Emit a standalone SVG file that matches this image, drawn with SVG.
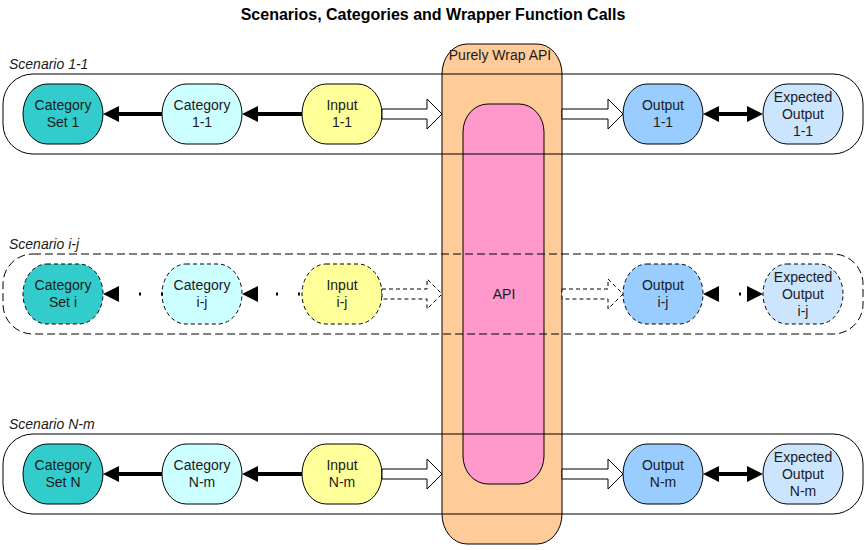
<svg xmlns="http://www.w3.org/2000/svg" width="867" height="550" viewBox="0 0 867 550">
<style>
text{font-family:"Liberation Sans",Arial,sans-serif;font-size:14px;fill:#1a1a1a;text-anchor:middle}
.title{font-weight:bold;font-size:16px;fill:#000}
.scn{font-style:italic;text-anchor:start}
.box{stroke:#000;stroke-width:1}
.scenario{fill:none;stroke:#000;stroke-width:1}
.dash{stroke-dasharray:8 4}
.ndash{stroke-dasharray:4 3}
.node{stroke:#000;stroke-width:1}
.cset{fill:#33CCCC}.cat{fill:#CCFFFF}.inp{fill:#FFFF99}.out{fill:#99CCFF}.exp{fill:#CCE5FF}
.shaft{stroke:#000;stroke-width:4;fill:none}
.dots{stroke:#000;stroke-width:3;fill:none;stroke-dasharray:2 20}
.head{fill:#000}
.hollow{fill:#fff;stroke:#000;stroke-width:1}
</style>
<rect width="867" height="550" fill="#fff"/>
<text class="title" x="433" y="20">Scenarios, Categories and Wrapper Function Calls</text>

<g id="purely-wrap-api">
<rect class="box" x="442" y="44" width="120" height="500" rx="25" ry="30" fill="#FFCC99"/>
<text x="500" y="60">Purely Wrap API</text>
</g>
<g id="api">
<rect class="box" x="463" y="104" width="81" height="380" rx="25" ry="28" fill="#FF99CC"/>
<text x="504" y="299">API</text>
</g>

<g id="scenario-1-1">
<rect class="scenario" x="3" y="74" width="860" height="80" rx="30" ry="30"/>
<text class="scn" x="9" y="69">Scenario 1-1</text>
</g>
<g id="scenario-i-j">
<rect class="scenario dash" x="3" y="254" width="860" height="80" rx="30" ry="30"/>
<text class="scn" x="9" y="249">Scenario i-j</text>
</g>
<g id="scenario-N-m">
<rect class="scenario" x="3" y="434" width="860" height="80" rx="30" ry="30"/>
<text class="scn" x="9" y="429">Scenario N-m</text>
</g>

<!-- Row 1 -->
<g id="category-set-1"><rect class="node cset" x="23" y="84" width="80" height="60" rx="24" ry="30"/><text x="63" y="110">Category</text><text x="63" y="127">Set 1</text></g>
<g id="category-1-1"><rect class="node cat" x="162" y="84" width="80" height="60" rx="24" ry="30"/><text x="202" y="110">Category</text><text x="202" y="127">1-1</text></g>
<g id="input-1-1"><rect class="node inp" x="302" y="84" width="80" height="60" rx="24" ry="30"/><text x="342" y="110">Input</text><text x="342" y="127">1-1</text></g>
<g id="output-1-1"><rect class="node out" x="623" y="84" width="80" height="60" rx="24" ry="30"/><text x="663" y="110">Output</text><text x="663" y="127">1-1</text></g>
<g id="expected-1-1"><rect class="node exp" x="763" y="84" width="80" height="60" rx="24" ry="30"/><text x="803" y="102">Expected</text><text x="803" y="119">Output</text><text x="803" y="136">1-1</text></g>

<!-- Row 2 -->
<g id="category-set-i"><rect class="node cset ndash" x="23" y="264" width="80" height="60" rx="24" ry="30"/><text x="63" y="290">Category</text><text x="63" y="307">Set i</text></g>
<g id="category-i-j"><rect class="node cat ndash" x="162" y="264" width="80" height="60" rx="24" ry="30"/><text x="202" y="290">Category</text><text x="202" y="307">i-j</text></g>
<g id="input-i-j"><rect class="node inp ndash" x="302" y="264" width="80" height="60" rx="24" ry="30"/><text x="342" y="290">Input</text><text x="342" y="307">i-j</text></g>
<g id="output-i-j"><rect class="node out ndash" x="623" y="264" width="80" height="60" rx="24" ry="30"/><text x="663" y="290">Output</text><text x="663" y="307">i-j</text></g>
<g id="expected-i-j"><rect class="node exp ndash" x="763" y="264" width="80" height="60" rx="24" ry="30"/><text x="803" y="282">Expected</text><text x="803" y="299">Output</text><text x="803" y="316">i-j</text></g>

<!-- Row 3 -->
<g id="category-set-N"><rect class="node cset" x="23" y="444" width="80" height="60" rx="24" ry="30"/><text x="63" y="470">Category</text><text x="63" y="487">Set N</text></g>
<g id="category-N-m"><rect class="node cat" x="162" y="444" width="80" height="60" rx="24" ry="30"/><text x="202" y="470">Category</text><text x="202" y="487">N-m</text></g>
<g id="input-N-m"><rect class="node inp" x="302" y="444" width="80" height="60" rx="24" ry="30"/><text x="342" y="470">Input</text><text x="342" y="487">N-m</text></g>
<g id="output-N-m"><rect class="node out" x="623" y="444" width="80" height="60" rx="24" ry="30"/><text x="663" y="470">Output</text><text x="663" y="487">N-m</text></g>
<g id="expected-N-m"><rect class="node exp" x="763" y="444" width="80" height="60" rx="24" ry="30"/><text x="803" y="462">Expected</text><text x="803" y="479">Output</text><text x="803" y="496">N-m</text></g>

<g id="connectors">
<!-- Row 1 -->
<line class="shaft" x1="162" y1="114" x2="117" y2="114"/><polygon class="head" points="103,114 119,106 119,122"/>
<line class="shaft" x1="302" y1="114" x2="256" y2="114"/><polygon class="head" points="242,114 258,106 258,122"/>
<polygon class="hollow" points="382,109 427,109 427,99 442,114 427,129 427,119 382,119"/>
<polygon class="hollow" points="562,109 608,109 608,99 623,114 608,129 608,119 562,119"/>
<line class="shaft" x1="717" y1="114" x2="749" y2="114"/><polygon class="head" points="703,114 719,106 719,122"/><polygon class="head" points="763,114 747,106 747,122"/>
<!-- Row 2 -->
<line class="dots" x1="163" y1="294" x2="118" y2="294"/><polygon class="head" points="103,294 119,286 119,302"/>
<line class="dots" x1="300" y1="294" x2="256" y2="294"/><polygon class="head" points="242,294 258,286 258,302"/>
<polygon class="hollow ndash" points="382,289 427,289 427,279 442,294 427,309 427,299 382,299"/>
<polygon class="hollow ndash" points="562,289 608,289 608,279 623,294 608,309 608,299 562,299"/>
<line class="dots" x1="741" y1="294" x2="718" y2="294"/><polygon class="head" points="703,294 719,286 719,302"/><polygon class="head" points="763,294 747,286 747,302"/>
<!-- Row 3 -->
<line class="shaft" x1="162" y1="474" x2="117" y2="474"/><polygon class="head" points="103,474 119,466 119,482"/>
<line class="shaft" x1="302" y1="474" x2="256" y2="474"/><polygon class="head" points="242,474 258,466 258,482"/>
<polygon class="hollow" points="382,469 427,469 427,459 442,474 427,489 427,479 382,479"/>
<polygon class="hollow" points="562,469 608,469 608,459 623,474 608,489 608,479 562,479"/>
<line class="shaft" x1="717" y1="474" x2="749" y2="474"/><polygon class="head" points="703,474 719,466 719,482"/><polygon class="head" points="763,474 747,466 747,482"/>
</g>
</svg>
